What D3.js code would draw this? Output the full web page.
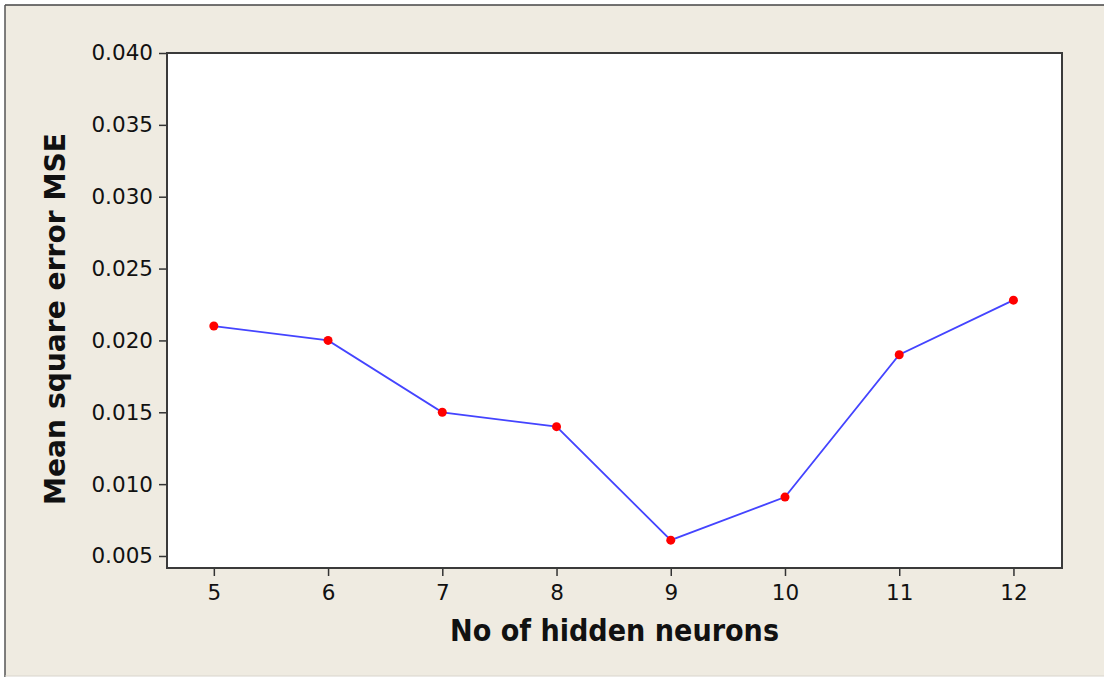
<!DOCTYPE html>
<html>
<head>
<meta charset="utf-8">
<script src="https://cdn.jsdelivr.net/npm/d3@7"></script>
<style>
  body { margin: 0; background: #ffffff; }
  svg { display: block; }
  .tick text { font-family: "DejaVu Sans", Verdana, sans-serif; fill: #111; }
</style>
</head>
<body>
<div id="chart"></div>
<script>
// data
let neurons = [5, 6, 7, 8, 9, 10, 11, 12];
let mse = [0.0210, 0.0200, 0.0150, 0.0140, 0.0061, 0.0091, 0.0190, 0.0228];
let yTicks = [0.005, 0.010, 0.015, 0.020, 0.025, 0.030, 0.035, 0.040];

let svgWidth = 1104;
let svgHeight = 677;

// plot box
let plot = { left: 167, top: 53, right: 1062, bottom: 568 };
let width = plot.right - plot.left;
let height = plot.bottom - plot.top;

let svg = d3.select('#chart')
  .append('svg')
  .attr('width', svgWidth)
  .attr('height', svgHeight);

// beige page background with window-ish border
svg.append('rect')
  .attr('x', 0).attr('y', 0)
  .attr('width', svgWidth).attr('height', svgHeight)
  .attr('fill', '#ffffff');
svg.append('rect')
  .attr('x', 5).attr('y', 5)
  .attr('width', svgWidth - 5).attr('height', svgHeight - 6)
  .attr('fill', '#efebe1');
svg.append('line')
  .attr('x1', 5).attr('x2', svgWidth).attr('y1', 5).attr('y2', 5)
  .attr('stroke', '#444').attr('stroke-width', 1.5);
svg.append('line')
  .attr('x1', 5).attr('x2', 5).attr('y1', 5).attr('y2', svgHeight)
  .attr('stroke', '#555').attr('stroke-width', 1.5);
svg.append('line')
  .attr('x1', 5).attr('x2', svgWidth).attr('y1', svgHeight - 1).attr('y2', svgHeight - 1)
  .attr('stroke', '#d8d4cc').attr('stroke-width', 1);

let chartGroup = svg.append('g')
  .attr('transform', `translate(${plot.left}, ${plot.top})`);

// scales
let xScale = d3.scaleLinear()
  .domain([4.59, 12.425])
  .range([0, width]);

let yScale = d3.scaleLinear()
  .domain([0.005 - 12 / 71.8 * 0.005, 0.040])
  .range([height, 0]);

// white plot area
chartGroup.append('rect')
  .attr('width', width)
  .attr('height', height)
  .attr('fill', '#ffffff');

// axes
let bottomAxis = d3.axisBottom(xScale)
  .tickValues(neurons)
  .tickSize(8)
  .tickPadding(9)
  .tickFormat(d3.format('d'));

let leftAxis = d3.axisLeft(yScale)
  .tickValues(yTicks)
  .tickSize(8)
  .tickPadding(6)
  .tickFormat(d3.format('.3f'));

let xAxis = chartGroup.append('g')
  .attr('transform', `translate(0, ${height})`)
  .call(bottomAxis);

let yAxis = chartGroup.append('g')
  .call(leftAxis);

[xAxis, yAxis].forEach(function(ax) {
  ax.select('.domain').remove();
  ax.selectAll('.tick line').attr('stroke', '#333').attr('stroke-width', 1.5);
  ax.selectAll('.tick text').attr('font-size', '21.5px');
});

// frame around plot area
chartGroup.append('rect')
  .attr('width', width)
  .attr('height', height)
  .attr('fill', 'none')
  .attr('stroke', '#3a3a3a')
  .attr('stroke-width', 2);

// line
let line = d3.line()
  .x((d, i) => xScale(neurons[i]))
  .y(d => yScale(d));

chartGroup.append('path')
  .datum(mse)
  .attr('d', line)
  .attr('fill', 'none')
  .attr('stroke', '#4444ff')
  .attr('stroke-width', 1.8);

// points
chartGroup.selectAll('circle')
  .data(mse)
  .enter()
  .append('circle')
  .attr('cx', (d, i) => xScale(neurons[i]))
  .attr('cy', d => yScale(d))
  .attr('r', 4.5)
  .attr('fill', '#ff0000');

// axis titles
svg.append('text')
  .attr('x', 614.5)
  .attr('y', 641)
  .attr('text-anchor', 'middle')
  .attr('font-family', '"DejaVu Sans", Verdana, sans-serif')
  .attr('font-weight', 'bold')
  .attr('font-size', '30px')
  .attr('textLength', 329)
  .attr('lengthAdjust', 'spacingAndGlyphs')
  .attr('fill', '#111')
  .text('No of hidden neurons');

svg.append('text')
  .attr('transform', 'translate(65, 319) rotate(-90)')
  .attr('text-anchor', 'middle')
  .attr('font-family', '"DejaVu Sans", Verdana, sans-serif')
  .attr('font-weight', 'bold')
  .attr('font-size', '29px')
  .attr('textLength', 372)
  .attr('lengthAdjust', 'spacingAndGlyphs')
  .attr('fill', '#111')
  .text('Mean square error MSE');
</script>
</body>
</html>
